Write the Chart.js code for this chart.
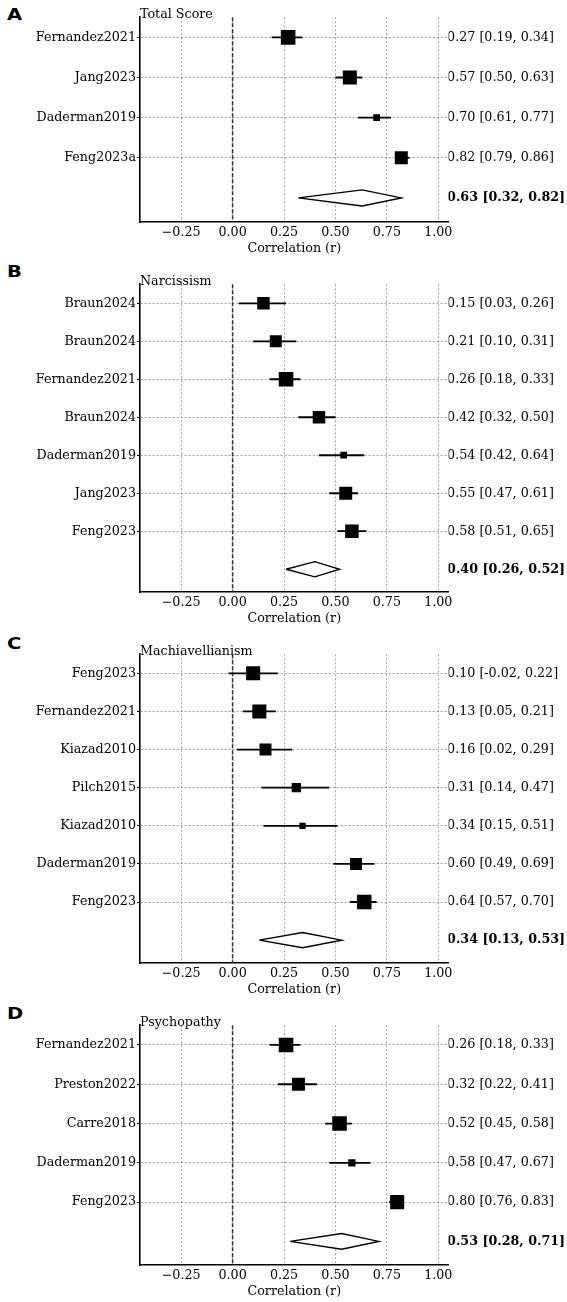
<!DOCTYPE html>
<html>
<head>
<meta charset="utf-8">
<script src="https://cdn.jsdelivr.net/npm/chart.js@4.4.1/dist/chart.umd.min.js"></script>
<style>
  body { margin: 0; background: #fff; width: 567px; height: 1302px; position: relative; overflow: hidden; }
  canvas { position: absolute; left: 0; }
  .tag { position: absolute; left: 7px; font: bold 16px 'DejaVu Sans', sans-serif; line-height: 16px;
         transform: scaleX(1.22); transform-origin: left center; color: #000; }
</style>
</head>
<body>
<div class="tag" style="top:7px">A</div>
<canvas id="cA" width="567" height="249" style="top:7px"></canvas>
<div class="tag" style="top:264px">B</div>
<canvas id="cB" width="567" height="352" style="top:274px"></canvas>
<div class="tag" style="top:636px">C</div>
<canvas id="cC" width="567" height="353" style="top:644px"></canvas>
<div class="tag" style="top:1006px">D</div>
<canvas id="cD" width="567" height="284" style="top:1015px"></canvas>
<script>
// x axis ticks (correlation)
var xTicks = [-0.25, 0.00, 0.25, 0.50, 0.75, 1.00];

// A - Total Score
var studiesA = ['Fernandez2021', 'Jang2023', 'Daderman2019', 'Feng2023a'];
var estA = [0.27, 0.57, 0.70, 0.82];
var loA  = [0.19, 0.50, 0.61, 0.79];
var hiA  = [0.34, 0.63, 0.77, 0.86];
var weightA = [28, 27, 13, 25];
var pooledA = [0.63, 0.32, 0.82];

// B - Narcissism
var studiesB = ['Braun2024', 'Braun2024', 'Fernandez2021', 'Braun2024', 'Daderman2019', 'Jang2023', 'Feng2023'];
var estB = [0.15, 0.21, 0.26, 0.42, 0.54, 0.55, 0.58];
var loB  = [0.03, 0.10, 0.18, 0.32, 0.42, 0.47, 0.51];
var hiB  = [0.26, 0.31, 0.33, 0.50, 0.64, 0.61, 0.65];
var weightB = [24, 23, 28, 24, 13, 25, 26];
var pooledB = [0.40, 0.26, 0.52];

// C - Machiavellianism
var studiesC = ['Feng2023', 'Fernandez2021', 'Kiazad2010', 'Pilch2015', 'Kiazad2010', 'Daderman2019', 'Feng2023'];
var estC = [0.10, 0.13, 0.16, 0.31, 0.34, 0.60, 0.64];
var loC  = [-0.02, 0.05, 0.02, 0.14, 0.15, 0.49, 0.57];
var hiC  = [0.22, 0.21, 0.29, 0.47, 0.51, 0.69, 0.70];
var weightC = [27, 27, 23, 18, 12, 23, 28];
var pooledC = [0.34, 0.13, 0.53];

// D - Psychopathy
var studiesD = ['Fernandez2021', 'Preston2022', 'Carre2018', 'Daderman2019', 'Feng2023'];
var estD = [0.26, 0.32, 0.52, 0.58, 0.80];
var loD  = [0.18, 0.22, 0.45, 0.47, 0.76];
var hiD  = [0.33, 0.41, 0.58, 0.67, 0.83];
var weightD = [28, 25, 28, 14, 27];
var pooledD = [0.53, 0.28, 0.71];

var FONT = "'DejaVu Serif', serif";
var FS = 12.7;
var GRID = 'rgba(0,0,0,0.42)';

function fmt(e, l, h) { return e.toFixed(2) + ' [' + l.toFixed(2) + ', ' + h.toFixed(2) + ']'; }

function forest(id, title, studies, est, lo, hi, weight, pooled) {
    var n = studies.length;
    var yMin = -0.5, yMax = n + 0.6;
    var rightLabels = est.map((e, i) => fmt(e, lo[i], hi[i])).concat(fmt(pooled[0], pooled[1], pooled[2]));

    var datasets = [];
    // study squares, side proportional to weight
    datasets.push({ data: est.map((e, i) => ({ x: e, y: i })), pointStyle: 'rect',
        pointRadius: weight.map(w => w * 0.52 / Math.SQRT2), backgroundColor: '#000', borderWidth: 0, order: 0 });
    // confidence intervals
    est.forEach((e, i) => {
        datasets.push({ data: [{ x: lo[i], y: i }, { x: hi[i], y: i }], showLine: true, pointRadius: 0,
            borderColor: '#000', borderWidth: 1.8, order: 1 });
    });
    // pooled diamond
    var pe = pooled[0], pl = pooled[1], ph = pooled[2];
    datasets.push({ data: [{ x: pl, y: n }, { x: pe, y: n - 0.2 }, { x: ph, y: n }, { x: pe, y: n + 0.2 }, { x: pl, y: n }],
        showLine: true, pointRadius: 0, borderColor: '#000', borderWidth: 1.4, backgroundColor: '#fff',
        fill: 'shape', tension: 0, order: 0 });
    // zero reference line
    datasets.push({ data: [{ x: 0, y: yMin }, { x: 0, y: yMax }], showLine: true, pointRadius: 0,
        borderColor: '#333', borderWidth: 1.5, borderDash: [4, 2], order: 5 });

    new Chart(document.getElementById(id), {
        type: 'scatter',
        data: { datasets: datasets },
        options: {
            responsive: false, animation: false, devicePixelRatio: 1,
            layout: { padding: 0 },
            plugins: {
                legend: { display: false }, tooltip: { enabled: false },
                title: { display: true, text: title, align: 'start', fullSize: false, color: '#000', padding: 0,
                    font: { family: FONT, size: FS, weight: 'normal', lineHeight: '6px' } }
            },
            scales: {
                x: { type: 'linear', min: -0.45, max: 1.05,
                    afterBuildTicks: s => { s.ticks = xTicks.map(v => ({ value: v })); },
                    ticks: { callback: v => (v < 0 ? '\u2212' : '') + Math.abs(v).toFixed(2), color: '#000',
                        font: { family: FONT, size: FS }, padding: 3, maxRotation: 0, autoSkip: false },
                    grid: { color: GRID, lineWidth: 0.9, drawTicks: false },
                    border: { color: '#000', width: 1.6, dash: [2, 2] },
                    title: { display: true, text: 'Correlation (r)', color: '#000', font: { family: FONT, size: FS }, padding: 0 },
                    afterFit: s => { s.height = 34; } },
                y: { type: 'linear', position: 'left', min: yMin, max: yMax, reverse: true,
                    afterBuildTicks: s => { s.ticks = studies.map((_, i) => ({ value: i })); },
                    ticks: { callback: v => studies[v], color: '#000', font: { family: FONT, size: FS }, padding: 1, autoSkip: false },
                    grid: { color: GRID, lineWidth: 0.9, drawTicks: true, tickLength: 3, tickColor: '#000', tickWidth: 1 },
                    border: { color: '#000', width: 1.6, dash: [2, 2] },
                    afterFit: s => { s.width = 140; } },
                y2: { type: 'linear', position: 'right', min: yMin, max: yMax, reverse: true,
                    afterBuildTicks: s => { s.ticks = rightLabels.map((_, i) => ({ value: i })); },
                    ticks: { callback: v => rightLabels[v], color: '#000', padding: -1.5, autoSkip: false,
                        font: c => ({ family: FONT, size: FS, weight: c.index === n ? 'bold' : 'normal' }) },
                    grid: { display: false, drawTicks: false },
                    border: { display: false },
                    afterFit: s => { s.width = 118.4; } }
            }
        }
    });
}

forest('cA', 'Total Score', studiesA, estA, loA, hiA, weightA, pooledA);
forest('cB', 'Narcissism', studiesB, estB, loB, hiB, weightB, pooledB);
forest('cC', 'Machiavellianism', studiesC, estC, loC, hiC, weightC, pooledC);
forest('cD', 'Psychopathy', studiesD, estD, loD, hiD, weightD, pooledD);
</script>
</body>
</html>
